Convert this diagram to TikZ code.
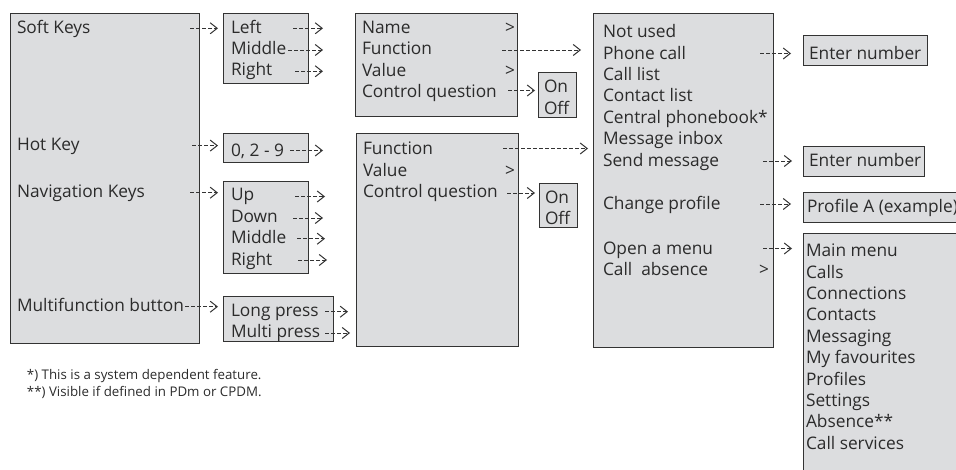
\documentclass[tikz,border=0pt]{standalone}
\usepackage{fontspec}
\setmainfont{Open Sans}
\usetikzlibrary{arrows.meta}
\definecolor{boxfill}{HTML}{DCDDDF}
\definecolor{linecol}{HTML}{333333}
\definecolor{txtcol}{HTML}{2B2B2B}
\begin{document}
\begin{tikzpicture}[x=1pt,y=-1pt,
 box/.style={draw=linecol, fill=boxfill, line width=0.8pt, anchor=north west, inner sep=0pt, outer sep=0pt},
 lbl/.style={anchor=base west, inner sep=0pt, outer sep=0pt, text=txtcol, font=\fontsize{17.3}{20}\selectfont},
 arr/.style={draw=linecol, line width=0.9pt, dash pattern=on 4pt off 2pt, -{Straight Barb[length=7pt,width=11pt,line width=1pt]}},
 note/.style={anchor=base west, inner sep=0pt, outer sep=0pt, text=txtcol, font=\fontsize{13.3}{15}\selectfont}]
\useasboundingbox (0,0) rectangle (956,470);
\clip (0,0) rectangle (956,470);
% boxes
\node[box, minimum width=189pt, minimum height=330pt] (b1) at (10,13) {};
\node[box, minimum width=85pt, minimum height=70pt] (b2) at (223,13) {};
\node[box, minimum width=85pt, minimum height=29pt] (b3) at (223,133) {};
\node[box, minimum width=85pt, minimum height=92pt] (b4) at (223,181) {};
\node[box, minimum width=110pt, minimum height=45pt] (b5) at (223,296) {};
\node[box, minimum width=162pt, minimum height=103pt] (b6) at (355,13) {};
\node[box, minimum width=38pt, minimum height=45pt] (b7) at (538,72) {};
\node[box, minimum width=162pt, minimum height=213pt] (b8) at (356,133) {};
\node[box, minimum width=38pt, minimum height=44pt] (b9) at (539,183) {};
\node[box, minimum width=180pt, minimum height=334pt] (b10) at (593,13) {};
\node[box, minimum width=124pt, minimum height=30pt] (b11) at (803,35) {};
\node[box, minimum width=121pt, minimum height=30pt] (b12) at (803,146) {};
\node[box, minimum width=170pt, minimum height=30pt] (b13) at (803,192) {};
\node[box, minimum width=170pt, minimum height=250pt] (b14) at (803,233) {};
% column 1
\node[lbl] (soft) at (17,33.3) {Soft Keys};
\node[lbl] (hot) at (17,150.7) {Hot Key};
\node[lbl] (nav) at (17,198) {Navigation Keys};
\node[lbl] (multi) at (17,312) {Multifunction button};
% column 2
\node[lbl] (left) at (231,33.3) {Left};
\node[lbl] (mid) at (231,54.7) {Middle};
\node[lbl] (right) at (231,76) {Right};
\node[lbl] (digits) at (231,156.7) {0, 2 - 9};
\node[lbl] (up) at (231,200.7) {Up};
\node[lbl] (down) at (231,222.3) {Down};
\node[lbl] (nmid) at (231,244) {Middle};
\node[lbl] (nright) at (231,265.5) {Right};
\node[lbl] (long) at (231,316.7) {Long press};
\node[lbl] (mpress) at (231,337.7) {Multi press};
% column 3
\node[lbl] (name) at (362,33.3) {Name};
\node[lbl] (func1) at (362,55) {Function};
\node[lbl] (val1) at (362,76.3) {Value};
\node[lbl] (cq1) at (362,97.8) {Control question};
\node[lbl] (gtname) at (505,33.3) {>};
\node[lbl] (gtval1) at (505,76.3) {>};
\node[lbl] (on1) at (544,93) {On};
\node[lbl] (off1) at (544,114.3) {Off};
\node[lbl] (func2) at (363,155) {Function};
\node[lbl] (val2) at (363,176.5) {Value};
\node[lbl] (cq2) at (363,198) {Control question};
\node[lbl] (gtval2) at (505,176.5) {>};
\node[lbl] (on2) at (545,203.3) {On};
\node[lbl] (off2) at (545,224.5) {Off};
% column 4
\node[lbl] (notused) at (603,37.7) {Not used};
\node[lbl] (phone) at (603,59.1) {Phone call};
\node[lbl] (calllist) at (603,80.5) {Call list};
\node[lbl] (contact) at (603,101.9) {Contact list};
\node[lbl] (central) at (603,123.3) {Central phonebook*};
\node[lbl] (inbox) at (603,144.7) {Message inbox};
\node[lbl] (send) at (603,166.1) {Send message};
\node[lbl] (chprof) at (603,209.5) {Change profile};
\node[lbl] (openmenu) at (603,254.5) {Open a menu};
\node[lbl] (absence) at (603,276) {Call\ \ absence};
\node[lbl] (gtabs) at (759,276) {>};
% column 5
\node[lbl] (enter1) at (809,60) {Enter number};
\node[lbl] (enter2) at (809,166.7) {Enter number};
\node[lbl] (profa) at (807,213) {Profile A (example)};
\node[lbl] (m1) at (806,256.7) {Main menu};
\node[lbl] (m2) at (806,278.1) {Calls};
\node[lbl] (m3) at (806,299.5) {Connections};
\node[lbl] (m4) at (806,320.9) {Contacts};
\node[lbl] (m5) at (806,342.3) {Messaging};
\node[lbl] (m6) at (806,363.7) {My favourites};
\node[lbl] (m7) at (806,385.1) {Profiles};
\node[lbl] (m8) at (806,406.5) {Settings};
\node[lbl] (m9) at (806,427.9) {Absence**};
\node[lbl] (m10) at (806,449.3) {Call services};
% footnotes
\node[note] (fn1) at (27,379.3) {*) This is a system dependent feature.};
\node[note] (fn2) at (27,396) {**) Visible if defined in PDm or CPDM.};
% arrow end points
\coordinate (s1) at (190,28.3);   \coordinate (e1) at (218,28.3);
\coordinate (s2) at (192,145.6);  \coordinate (e2) at (218,145.6);
\coordinate (s3) at (190,192.7);  \coordinate (e3) at (218,192.7);
\coordinate (s4) at (185,306.7);  \coordinate (e4) at (218,306.7);
\coordinate (s5) at (293,28.3);   \coordinate (e5) at (323,28.3);
\coordinate (s6) at (288,50);     \coordinate (e6) at (323,50);
\coordinate (s7) at (295,71.3);   \coordinate (e7) at (323,71.3);
\coordinate (s8) at (290,150.5);  \coordinate (e8) at (323,150.5);
\coordinate (s9) at (295,196.5);  \coordinate (e9) at (325,196.5);
\coordinate (s10) at (293,218);   \coordinate (e10) at (323,218);
\coordinate (s11) at (297,238.7); \coordinate (e11) at (325,238.7);
\coordinate (s12) at (298,260);   \coordinate (e12) at (327,260);
\coordinate (s13) at (325,311.7); \coordinate (e13) at (348,311.7);
\coordinate (s14) at (325,333);   \coordinate (e14) at (350,333);
\coordinate (s15) at (502,50);    \coordinate (e15) at (581,50);
\coordinate (s16) at (508,90.5);  \coordinate (e16) at (535,90.5);
\coordinate (s17) at (503,148.5); \coordinate (e17) at (588,148.5);
\coordinate (s18) at (507,193);   \coordinate (e18) at (535,193);
\coordinate (s19) at (760,53.5);  \coordinate (e19) at (791,53.5);
\coordinate (s20) at (763,161);   \coordinate (e20) at (792,161);
\coordinate (s21) at (760,204);   \coordinate (e21) at (791,204);
\coordinate (s22) at (763,248.5); \coordinate (e22) at (792,248.5);
\foreach \i in {1,...,22} {\draw[arr] (s\i) -- (e\i);}
\end{tikzpicture}
\end{document}
